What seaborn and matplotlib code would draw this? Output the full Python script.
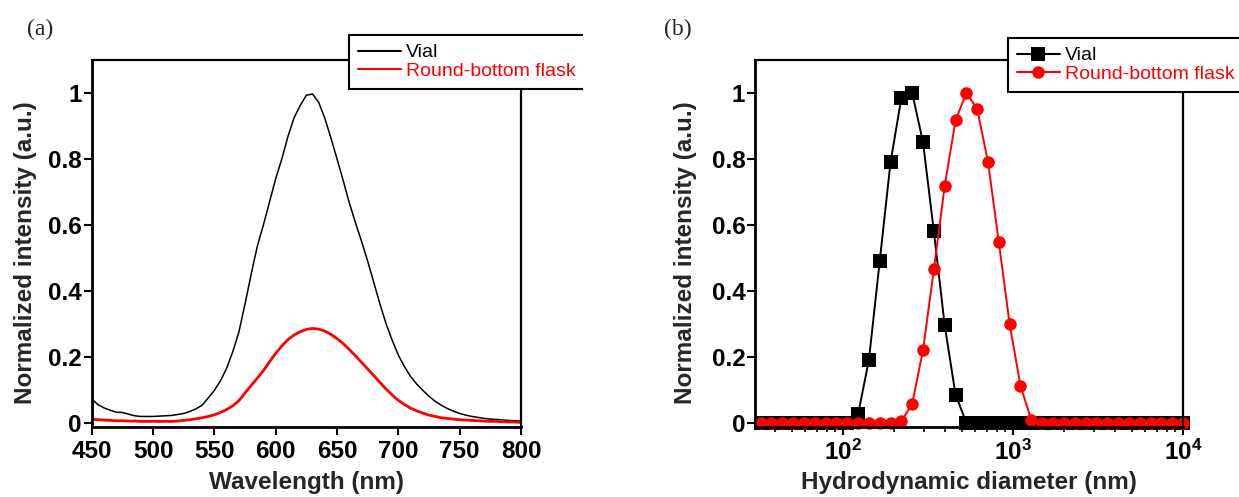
import matplotlib
matplotlib.use("Agg")
import matplotlib.pyplot as plt
import matplotlib.ticker as mticker
from matplotlib.transforms import Bbox, TransformedBbox
import numpy as np
import seaborn as sns

# ---- Panel (a): normalized PL spectra ----
wavelength_nm = [450, 455, 460, 465, 470, 475, 480, 485, 490, 495,
                 500, 505, 510, 515, 520, 525, 530, 535, 540, 545,
                 550, 555, 560, 565, 570, 575, 580, 585, 590, 595,
                 600, 605, 610, 615, 620, 625, 630, 635, 640, 645,
                 650, 655, 660, 665, 670, 675, 680, 685, 690, 695,
                 700, 705, 710, 715, 720, 725, 730, 735, 740, 745,
                 750, 755, 760, 765, 770, 775, 780, 785, 790, 795, 800]
pl_vial = [0.072, 0.055, 0.045, 0.038, 0.032, 0.031, 0.026, 0.021, 0.019, 0.019,
           0.019, 0.020, 0.021, 0.022, 0.025, 0.028, 0.034, 0.042, 0.053, 0.075,
           0.098, 0.127, 0.165, 0.215, 0.275, 0.360, 0.450, 0.535, 0.600, 0.670,
           0.740, 0.800, 0.868, 0.925, 0.962, 0.993, 0.997, 0.972, 0.924, 0.864,
           0.800, 0.735, 0.667, 0.607, 0.550, 0.490, 0.425, 0.360, 0.300, 0.250,
           0.205, 0.170, 0.140, 0.117, 0.098, 0.080, 0.065, 0.053, 0.043, 0.035,
           0.028, 0.023, 0.019, 0.016, 0.013, 0.011, 0.010, 0.008, 0.007, 0.006, 0.005]
pl_flask = [0.011, 0.009, 0.008, 0.007, 0.006, 0.006, 0.005, 0.005, 0.004, 0.004,
            0.004, 0.004, 0.004, 0.004, 0.005, 0.007, 0.009, 0.012, 0.015, 0.019,
            0.024, 0.031, 0.040, 0.051, 0.067, 0.090, 0.113, 0.135, 0.158, 0.185,
            0.210, 0.233, 0.252, 0.266, 0.276, 0.283, 0.286, 0.284, 0.278, 0.268,
            0.255, 0.240, 0.222, 0.203, 0.183, 0.163, 0.143, 0.122, 0.102, 0.084,
            0.068, 0.055, 0.044, 0.036, 0.029, 0.023, 0.019, 0.015, 0.013, 0.011,
            0.009, 0.008, 0.007, 0.006, 0.005, 0.004, 0.004, 0.003, 0.002, 0.002, 0.001]

# ---- Panel (b): DLS intensity size distributions ----
diameter_nm = [32.67, 37.84, 43.82, 50.75, 58.77, 68.06, 78.82, 91.28, 105.7, 122.4,
               141.8, 164.2, 190.1, 220.2, 255.0, 295.3, 342.0, 396.1, 458.7, 531.2,
               615.1, 712.4, 825.0, 955.4, 1106, 1281, 1484, 1718, 1990, 2305,
               2669, 3091, 3580, 4145, 4801, 5560, 6439, 7456, 8635, 10000]
dls_vial = [0, 0, 0, 0, 0, 0, 0, 0, 0, 0.025,
            0.19, 0.49, 0.79, 0.985, 1.0, 0.85, 0.58, 0.295, 0.085, 0,
            0, 0, 0, 0, 0, 0, 0, 0, 0, 0,
            0, 0, 0, 0, 0, 0, 0, 0, 0, 0]
dls_flask = [0, 0, 0, 0, 0, 0, 0, 0, 0, 0,
             0, 0, 0, 0.004, 0.058, 0.22, 0.465, 0.718, 0.917, 1.0,
             0.952, 0.79, 0.547, 0.298, 0.112, 0.008, 0, 0, 0, 0,
             0, 0, 0, 0, 0, 0, 0, 0, 0, 0]

labels = ["Vial", "Round-bottom flask"]
colors = ["black", "red"]
y_ticks = [0, 0.2, 0.4, 0.6, 0.8, 1.0]

sns.set_theme(style="ticks")
plt.rcParams["font.family"] = ["Liberation Sans", "DejaVu Sans"]
plt.rcParams.update({
    "font.weight": "bold",
    "axes.labelweight": "bold",
    "mathtext.fontset": "custom",
    "mathtext.rm": "Liberation Sans",
    "mathtext.bf": "Liberation Sans:bold",
    "axes.linewidth": 1.6,
    "axes.edgecolor": "black",
    "xtick.direction": "out",
    "ytick.direction": "out",
    "xtick.major.size": 6,
    "ytick.major.size": 6,
    "xtick.major.width": 1.5,
    "ytick.major.width": 1.5,
    "xtick.minor.size": 3.5,
    "xtick.minor.width": 1.2,
    "xtick.color": "black",
    "ytick.color": "black",
    "xtick.labelsize": 17.5,
    "ytick.labelsize": 17.5,
    "xtick.major.pad": 3,
    "ytick.major.pad": 1,
})

W, H = 1239, 497
fig = plt.figure(figsize=(W / 100, H / 100), dpi=100)
ax_a = fig.add_axes([91.7 / W, 70 / H, 429.3 / W, 367 / H])
ax_b = fig.add_axes([755 / W, 70 / H, 428 / W, 367 / H])

# Panel (a) spectra
sns.lineplot(x=wavelength_nm, y=pl_vial, ax=ax_a, color=colors[0], linewidth=1.1,
             label=labels[0], estimator=None, sort=False)
sns.lineplot(x=wavelength_nm, y=pl_flask, ax=ax_a, color=colors[1], linewidth=2.0,
             label=labels[1], estimator=None, sort=False)
ax_a.set_xlim(450, 800)
ax_a.xaxis.set_major_locator(mticker.MultipleLocator(50))

# Panel (b) size distributions
sns.lineplot(x=diameter_nm, y=dls_vial, ax=ax_b, color=colors[0], linewidth=1.4,
             marker="s", markersize=9.5, markeredgecolor=colors[0], markeredgewidth=0,
             label=labels[0], estimator=None, sort=False, clip_on=False)
sns.lineplot(x=diameter_nm, y=dls_flask, ax=ax_b, color=colors[1], linewidth=1.4,
             marker="o", markersize=9, markeredgecolor=colors[1], markeredgewidth=0,
             label=labels[1], estimator=None, sort=False, clip_on=False)
ax_b.set_xscale("log")
ax_b.set_xlim(30.3, 10000)
ax_b.xaxis.set_major_locator(mticker.LogLocator(base=10, numticks=10))
ax_b.xaxis.set_minor_locator(mticker.LogLocator(base=10, subs=np.arange(2, 10), numticks=20))
ax_b.xaxis.set_minor_formatter(mticker.NullFormatter())
ax_b.xaxis.set_major_formatter(mticker.FuncFormatter(
    lambda v, pos: r"$\mathbf{10^{%d}}$" % int(round(np.log10(v)))))

for ax in (ax_a, ax_b):
    ax.set_ylim(-0.013, 1.1)
    ax.set_yticks(y_ticks)
    ax.yaxis.set_major_formatter(mticker.FuncFormatter(lambda v, pos: "%g" % v))
    ax.tick_params(axis="y", which="minor", left=False)
    for lab in ax.get_xticklabels() + ax.get_yticklabels():
        lab.set_fontweight("bold")
    for side in ("left", "bottom"):
        ax.spines[side].set_linewidth(2.0)
    ax.set_ylabel("Normalized intensity (a.u.)", fontsize=17.5, fontweight="bold")

ax_a.set_xlabel("Wavelength (nm)", fontsize=17.5, fontweight="bold")
ax_b.set_xlabel("Hydrodynamic diameter (nm)", fontsize=17.5, fontweight="bold")
ax_a.xaxis.set_label_coords(0.5, -0.12)
ax_b.xaxis.set_label_coords(0.5, -0.12)
ax_a.yaxis.set_label_coords(-0.127, 0.475)
ax_b.yaxis.set_label_coords(-0.1355, 0.475)


def add_legend(ax, left_px, top_px):
    leg = ax.legend(loc="upper left", bbox_to_anchor=(left_px / W, 1 - top_px / H),
                    bbox_transform=fig.transFigure, borderaxespad=0, fancybox=False,
                    framealpha=1, edgecolor="black", facecolor="white",
                    prop={"family": "Liberation Sans", "size": 14, "weight": "normal"},
                    handlelength=2.2, handletextpad=0.3, borderpad=0.45,
                    labelspacing=0.05, labelcolor="linecolor", numpoints=1)
    leg.get_frame().set_linewidth(1.5)
    for handle in leg.get_lines():
        handle.set_linewidth(1.5)
    return leg


leg_a = add_legend(ax_a, 349, 35)
frame_a = leg_a.get_frame()
frame_a.set_clip_box(TransformedBbox(Bbox([[0, 0], [583 / W, 1]]), fig.transFigure))
frame_a.set_clip_on(True)
add_legend(ax_b, 1008, 38)

fig.text(40 / W, 1 - 29 / H, "(a)", family="Liberation Serif", fontsize=17,
         fontweight="normal", ha="center", va="center")
fig.text(678 / W, 1 - 29 / H, "(b)", family="Liberation Serif", fontsize=17,
         fontweight="normal", ha="center", va="center")

fig.savefig("out.png", dpi=100)
